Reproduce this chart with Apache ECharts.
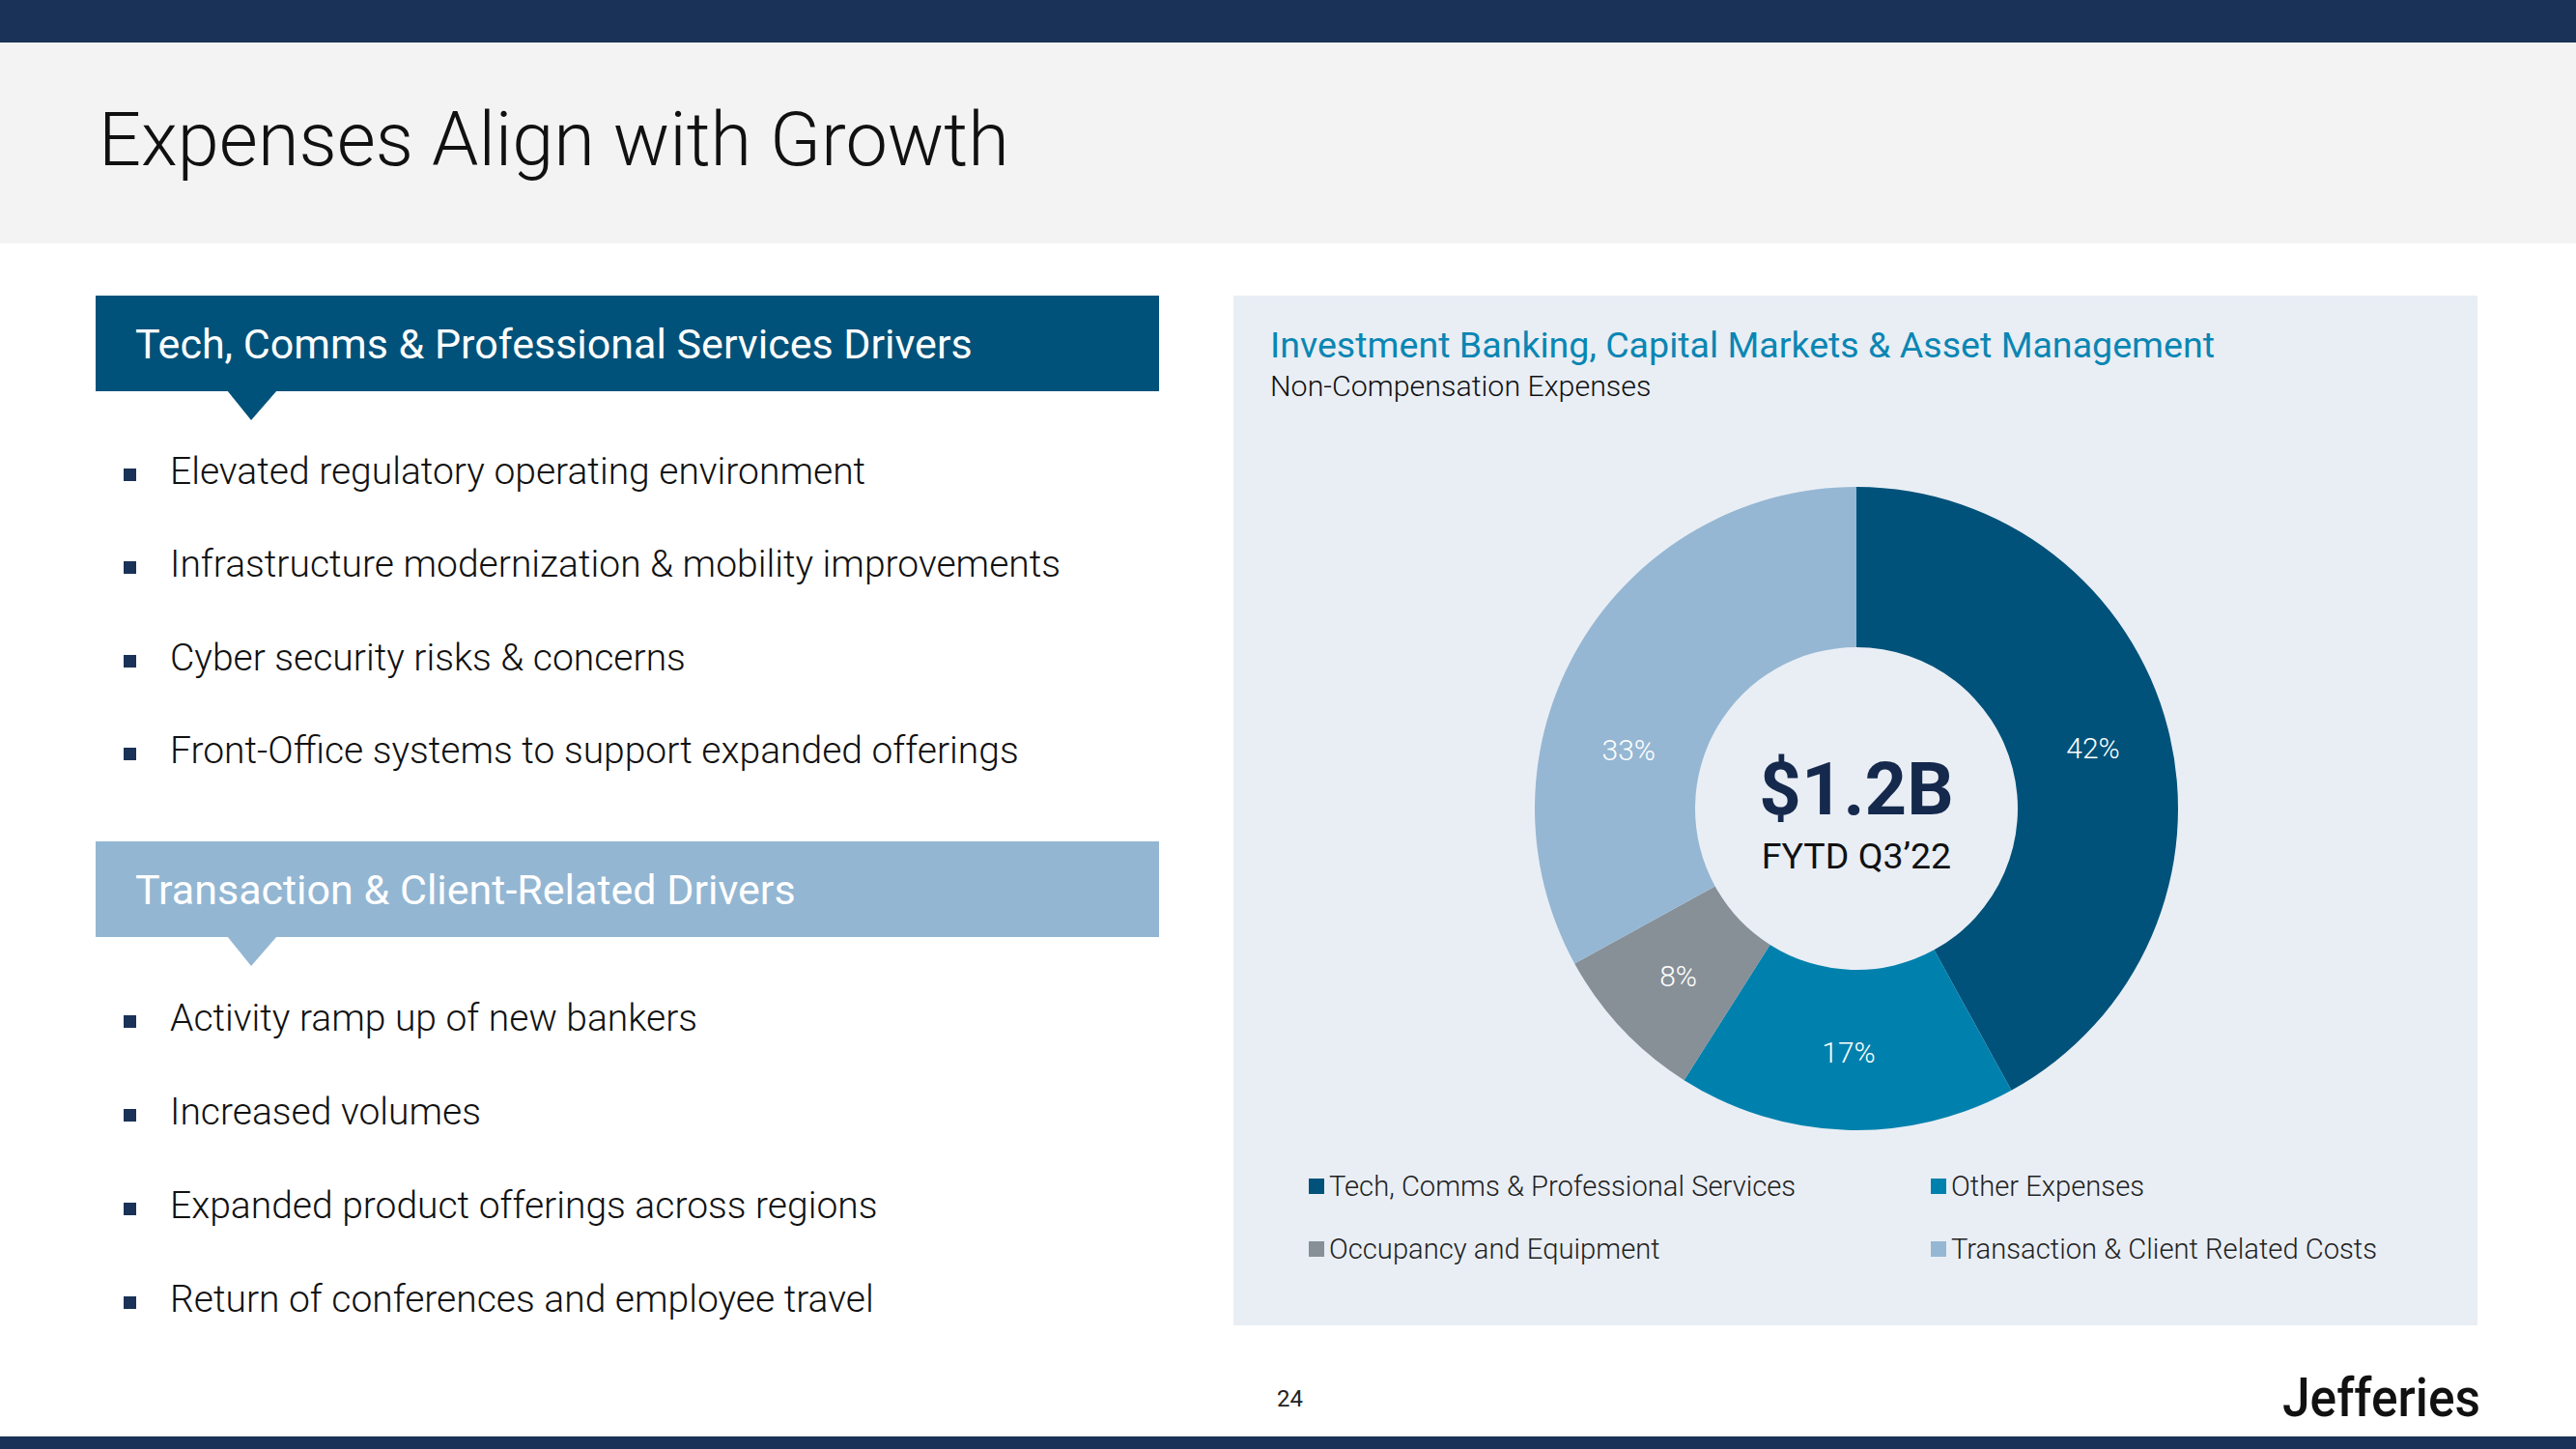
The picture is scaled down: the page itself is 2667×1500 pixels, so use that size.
<!DOCTYPE html>
<html>
<head>
<meta charset="utf-8">
<script src="https://cdn.jsdelivr.net/npm/echarts@6/dist/echarts.min.js"></script>
<style>
html,body{margin:0;padding:0;background:#fff;}
#c{width:2667px;height:1500px;}
</style>
</head>
<body>
<div id="c"></div>
<script>
// ---- data ----
const pageTitle = 'Expenses Align with Growth';
const header1 = 'Tech, Comms & Professional Services Drivers';
const header2 = 'Transaction & Client-Related Drivers';
const bullets1 = [
  'Elevated regulatory operating environment',
  'Infrastructure modernization & mobility improvements',
  'Cyber security risks & concerns',
  'Front-Office systems to support expanded offerings'
];
const bullets2 = [
  'Activity ramp up of new bankers',
  'Increased volumes',
  'Expanded product offerings across regions',
  'Return of conferences and employee travel'
];
const chartTitle = 'Investment Banking, Capital Markets & Asset Management';
const chartSubtitle = 'Non-Compensation Expenses';
const categories = [
  'Tech, Comms & Professional Services',
  'Other Expenses',
  'Occupancy and Equipment',
  'Transaction & Client Related Costs'
];
const shares = [42, 17, 8, 33];
const centerValue = '$1.2B';
const centerLabel = 'FYTD Q3\u201922';
const pageNumber = '24';
const brand = 'Jefferies';

// ---- styles ----
const sliceColors = ['#00527a', '#0081ad', '#878f97', '#95b7d3'];
const F = 'Roboto, "Open Sans", sans-serif';

const chart = echarts.init(document.getElementById('c'), null, {renderer: 'svg'});

const graphics = [
  {type: 'rect', shape: {x: 0, y: 0, width: 2667, height: 44}, style: {fill: '#1a3257'}, z: -10},
  {type: 'rect', shape: {x: 0, y: 44, width: 2667, height: 208}, style: {fill: '#f3f3f3'}, z: -10},
  {type: 'rect', shape: {x: 0, y: 1487, width: 2667, height: 13}, style: {fill: '#1a3257'}, z: -10},
  {type: 'text', x: 102, y: 144, style: {text: pageTitle, fill: '#111', font: '300 77.5px ' + F, textVerticalAlign: 'middle'}},
  // header 1
  {type: 'rect', shape: {x: 99, y: 306, width: 1101, height: 99}, style: {fill: '#00527a'}, z: -5},
  {type: 'polygon', shape: {points: [[235, 404], [287, 404], [260, 435]]}, style: {fill: '#00527a'}, z: -5},
  {type: 'text', x: 140, y: 356, style: {text: header1, fill: '#fff', font: '400 43px ' + F, textVerticalAlign: 'middle'}},
  // header 2
  {type: 'rect', shape: {x: 99, y: 871, width: 1101, height: 99}, style: {fill: '#93b6d3'}, z: -5},
  {type: 'polygon', shape: {points: [[235, 969], [287, 969], [260, 1000]]}, style: {fill: '#93b6d3'}, z: -5},
  {type: 'text', x: 140, y: 921, style: {text: header2, fill: '#fff', font: '400 43px ' + F, textVerticalAlign: 'middle'}},
  // right panel
  {type: 'rect', shape: {x: 1277, y: 306, width: 1288, height: 1066}, style: {fill: '#e9eef5'}, z: -5},
  {type: 'text', x: 1315, y: 357, style: {text: chartTitle, fill: '#0a86b3', font: '400 37.6px ' + F, textVerticalAlign: 'middle'}},
  {type: 'text', x: 1315, y: 399, style: {text: chartSubtitle, fill: '#111', font: '300 30.4px ' + F, textVerticalAlign: 'middle'}},
  // center
  {type: 'text', x: 1922, y: 817, style: {text: centerValue, fill: '#15294d', font: '700 76px ' + F, textAlign: 'center', textVerticalAlign: 'middle'}, z: 10},
  {type: 'text', x: 1922, y: 886, style: {text: centerLabel, fill: '#111', font: '400 37.5px ' + F, textAlign: 'center', textVerticalAlign: 'middle'}, z: 10},
  // footer
  {type: 'text', x: 1322, y: 1448, style: {text: pageNumber, fill: '#222', font: '400 24px ' + F, textVerticalAlign: 'middle'}},
  {type: 'text', x: 2568, y: 1447, scaleX: 0.92, originX: 0, originY: 0, style: {text: brand, fill: '#111', font: '500 56px ' + F, textAlign: 'right', textVerticalAlign: 'middle'}}
];

const bulletRowsY1 = [488, 584, 681, 777];
const bulletRowsY2 = [1054, 1151, 1248, 1345];
function addBullets(list, ys) {
  list.forEach((t, i) => {
    graphics.push({type: 'rect', shape: {x: 128, y: ys[i] - 3, width: 13, height: 13}, style: {fill: '#1a3257'}});
    graphics.push({type: 'text', x: 176, y: ys[i], style: {text: t, fill: '#111', font: '300 39px ' + F, textVerticalAlign: 'middle'}});
  });
}
addBullets(bullets1, bulletRowsY1);
addBullets(bullets2, bulletRowsY2);

const pieData = categories.map((name, i) => {
  const d = {name: name, value: shares[i], itemStyle: {color: sliceColors[i]}};
  if (i === 3) d.label = {offset: [-18, 68]};
  return d;
});

const legendText = {fontFamily: F, fontSize: 29.2, fontWeight: 300, color: '#222', lineHeight: 30};

chart.setOption({
  animation: false,
  graphic: {elements: graphics},
  legend: [
    {orient: 'vertical', left: 1350, top: 1208, itemGap: 35, itemWidth: 16, itemHeight: 16, icon: 'rect',
     data: [categories[0], categories[2]], textStyle: legendText, selectedMode: false},
    {orient: 'vertical', left: 1994, top: 1208, itemGap: 35, itemWidth: 16, itemHeight: 16, icon: 'rect',
     data: [categories[1], categories[3]], textStyle: legendText, selectedMode: false}
  ],
  series: [{
    type: 'pie',
    center: [1922, 837],
    radius: [167, 333],
    startAngle: 90,
    clockwise: true,
    avoidLabelOverlap: false,
    silent: true,
    label: {show: true, position: 'inside', formatter: '{c}%', color: '#fff', fontFamily: F, fontSize: 30, fontWeight: 300},
    labelLine: {show: false},
    itemStyle: {borderWidth: 0},
    data: pieData
  }]
});
</script>
</body>
</html>
